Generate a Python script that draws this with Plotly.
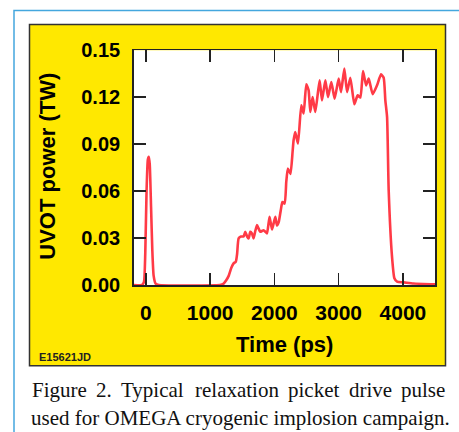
import plotly.graph_objects as go

# ---- data ----
time_ps = [-190, -60, -30, -10, 10, 30, 45, 60, 80, 100, 120, 150, 200,
           1150, 1200, 1250, 1290, 1330, 1365, 1400, 1420, 1443, 1480, 1520, 1547,
           1575, 1599, 1625, 1650, 1676, 1700, 1729, 1755, 1780, 1832, 1860, 1885,
           1925, 1963, 2014, 2040, 2066, 2100, 2125, 2160, 2185, 2210, 2250, 2283,
           2299, 2325, 2367, 2419, 2455, 2497, 2533, 2559, 2595, 2637, 2704, 2741,
           2793, 2835, 2886, 2938, 3000, 3037, 3089, 3131, 3182, 3245, 3296, 3338,
           3380, 3427, 3468, 3530, 3598, 3660, 3701, 3727, 3754, 3779, 3831, 3868,
           3910, 4013, 4164, 4500]
power_tw = [0, 0, 0.002, 0.02, 0.06, 0.08, 0.082, 0.077, 0.05, 0.022, 0.006, 0.001, 0,
            0, 0.0005, 0.003, 0.006, 0.011, 0.0138, 0.015, 0.02, 0.0298, 0.031, 0.031, 0.034,
            0.031, 0.0298, 0.034, 0.033, 0.0298, 0.034, 0.0383, 0.036, 0.034, 0.035, 0.034, 0.033,
            0.0436, 0.0355, 0.0436, 0.038, 0.04, 0.048, 0.053, 0.052, 0.066, 0.0745, 0.071, 0.085,
            0.0925, 0.0978, 0.0904, 0.1149, 0.1096, 0.1282, 0.1244, 0.1106, 0.1201, 0.1106, 0.1308, 0.118,
            0.1308, 0.1201, 0.1297, 0.1191, 0.1319, 0.1233, 0.1383, 0.1233, 0.1325, 0.1155, 0.1212, 0.1198,
            0.1368, 0.1276, 0.1319, 0.1219, 0.1276, 0.1346, 0.1325, 0.118, 0.1074, 0.0606, 0.0181, 0.0043,
            0.0021, 0.0017, 0.001, 0.0005]

x_ticks = [0, 1000, 2000, 3000, 4000]
y_ticks = [0.00, 0.03, 0.06, 0.09, 0.12, 0.15]
y_tick_labels = ["0.00", "0.03", "0.06", "0.09", "0.12", "0.15"]

caption_line1 = ["Figure", "2.", "Typical", "relaxation", "picket", "drive", "pulse"]
caption_line2 = "used for OMEGA cryogenic implosion campaign."

W, H = 459, 432
def PX(x): return x / W
def PY(y): return 1 - y / H

fig = go.Figure()
fig.add_trace(go.Scatter(x=time_ps, y=power_tw, mode="lines",
                         line=dict(color="#FF3A46", width=2.6, shape="spline", smoothing=0.5),
                         hoverinfo="skip"))

axfont = "Liberation Sans, Arial, Helvetica, sans-serif"
fig.update_layout(
    width=W, height=H, autosize=False,
    margin=dict(l=0, r=0, t=0, b=0, pad=0, autoexpand=False),
    paper_bgcolor="white", plot_bgcolor="white",
    showlegend=False,
    xaxis=dict(domain=[PX(133.7), PX(435)], range=[-190, 4500], automargin=False,
               tickvals=x_ticks, ticks="inside", ticklen=12, tickwidth=1.5, tickcolor="#222",
               showline=True, linecolor="#222", linewidth=1.5, mirror="ticks",
               showgrid=False, zeroline=False, ticklabelstandoff=8,
               tickfont=dict(family=axfont, size=21, color="black", weight="bold")),
    yaxis=dict(domain=[PY(285), PY(50.3)], range=[0, 0.15], automargin=False,
               tickvals=y_ticks, ticktext=y_tick_labels, ticks="inside", ticklen=12, tickwidth=1.5,
               tickcolor="#222",
               showline=True, linecolor="#222", linewidth=1.5, mirror="ticks",
               showgrid=False, zeroline=False, ticklabelstandoff=8,
               tickfont=dict(family=axfont, size=20, color="black", weight="bold")),
)

shapes = [
    dict(type="rect", xref="paper", yref="paper", x0=PX(14), x1=PX(480), y0=PY(460), y1=PY(10.5),
         line=dict(color="#44A7DE", width=1.5), fillcolor="rgba(0,0,0,0)", layer="below"),
    dict(type="rect", xref="paper", yref="paper", x0=PX(29.5), x1=PX(445.5), y0=PY(365.7), y1=PY(24.5),
         line=dict(color="#333333", width=1.5), fillcolor="#FFE800", layer="below"),
    dict(type="rect", xref="paper", yref="paper", x0=PX(133.7), x1=PX(435), y0=PY(285), y1=PY(50.3),
         line=dict(width=0), fillcolor="white", layer="below"),
]
fig.update_layout(shapes=shapes)

ann = []
ann.append(dict(text="<b>UVOT power (TW)</b>", x=PX(48), y=PY(166.7), xref="paper", yref="paper",
                textangle=-90, showarrow=False, xanchor="center", yanchor="middle",
                font=dict(family=axfont, size=22, color="black")))
ann.append(dict(text="<b>Time (ps)</b>", x=PX(284), y=PY(344), xref="paper", yref="paper",
                showarrow=False, xanchor="center", yanchor="middle",
                font=dict(family=axfont, size=22, color="black")))
ann.append(dict(text="<b>E15621JD</b>", x=PX(37), y=PY(356.7), xref="paper", yref="paper",
                showarrow=False, xanchor="left", yanchor="middle",
                font=dict(family=axfont, size=11, color="#222")))

serif = "Liberation Serif, Times New Roman, serif"
word_x = [29.5, 94, 119, 192.5, 286, 346.5, 399]
for i, w in enumerate(caption_line1):
    ann.append(dict(text=w, x=PX(word_x[i]), y=PY(390), xref="paper", yref="paper",
                    showarrow=False, xanchor="left",
                    yanchor="middle", font=dict(family=serif, size=21, color="#111")))
ann.append(dict(text=caption_line2, x=PX(28.5), y=PY(418), xref="paper", yref="paper",
                showarrow=False, xanchor="left", yanchor="middle",
                font=dict(family=serif, size=21, color="#111")))
fig.update_layout(annotations=ann)

post = ("document.body.style.margin='0';document.body.style.padding='0';"
        "document.documentElement.style.overflow='hidden';"
        "var d=document.getElementById('{plot_id}');"
        "d.style.position='fixed';d.style.left='0px';d.style.top='0px';")
fig.write_html("out.html", post_script=post, config={"displayModeBar": False, "staticPlot": True})
